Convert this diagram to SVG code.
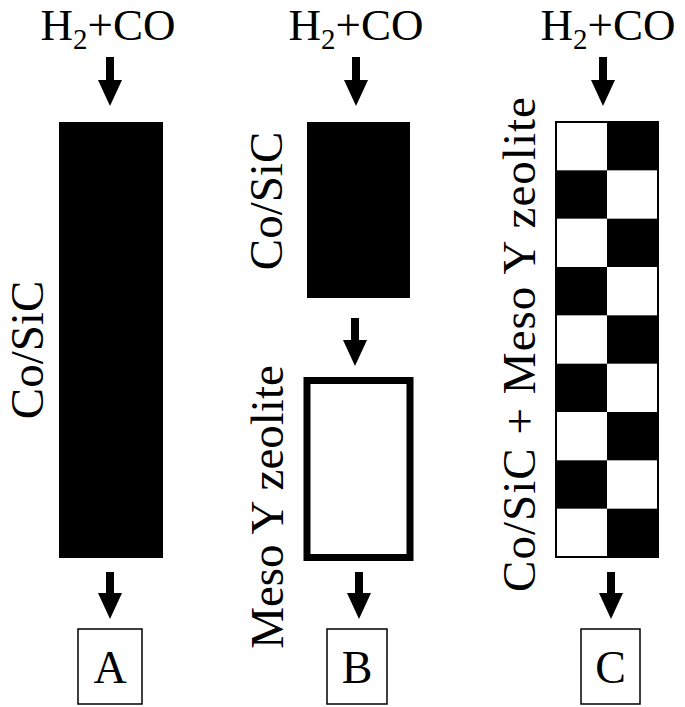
<svg xmlns="http://www.w3.org/2000/svg" width="685" height="707" viewBox="0 0 685 707">
<style>
text{font-family:'Liberation Serif','DejaVu Serif','Times New Roman',serif;fill:#000}
.top{font-size:45px;text-anchor:middle}
.rot{font-size:47px;text-anchor:middle}
.lbl{font-size:46px;text-anchor:middle}
.box{fill:#fff;stroke:#000;stroke-width:1.5}
.arr{stroke:#000;stroke-width:8;fill:none;marker-end:url(#head)}
</style>
<defs>
<marker id="head" markerUnits="userSpaceOnUse" markerWidth="26" markerHeight="24" refX="2" refY="12" orient="auto" viewBox="0 0 26 24">
<path d="M0,0 L26,12 L0,24 Z" fill="#000"/>
</marker>
</defs>
<rect width="685" height="707" fill="#fff"/>

<g id="feedA"><text class="top" x="108" y="40">H<tspan font-size="29" dy="9">2</tspan><tspan dy="-9">+CO</tspan></text></g>
<g id="feedB"><text class="top" x="356" y="40">H<tspan font-size="29" dy="9">2</tspan><tspan dy="-9">+CO</tspan></text></g>
<g id="feedC"><text class="top" x="608" y="40">H<tspan font-size="29" dy="9">2</tspan><tspan dy="-9">+CO</tspan></text></g>

<g id="bedA">
<rect x="59" y="122" width="104" height="436" fill="#000"/>
<text class="rot" transform="translate(43,350) rotate(-90)" font-size="46">Co/SiC</text>
</g>

<g id="bedB1">
<rect x="307" y="122" width="103" height="176" fill="#000"/>
<text class="rot" transform="translate(282,201) rotate(-90)">Co/SiC</text>
</g>

<g id="bedB2">
<rect x="307" y="380.5" width="103" height="177" fill="#fff" stroke="#000" stroke-width="7"/>
<text class="rot" transform="translate(283,507) rotate(-90)">Meso Y zeolite</text>
</g>

<g id="bedC">
<rect x="556" y="122" width="102" height="435" fill="#fff" stroke="#000" stroke-width="2"/>
<g fill="#000">
<rect x="607" y="122" width="51" height="48.33"/>
<rect x="556" y="170.33" width="51" height="48.33"/>
<rect x="607" y="218.67" width="51" height="48.33"/>
<rect x="556" y="267" width="51" height="48.33"/>
<rect x="607" y="315.33" width="51" height="48.33"/>
<rect x="556" y="363.67" width="51" height="48.33"/>
<rect x="607" y="412" width="51" height="48.33"/>
<rect x="556" y="460.33" width="51" height="48.33"/>
<rect x="607" y="508.67" width="51" height="48.33"/>
</g>
<text class="rot" transform="translate(535,344.5) rotate(-90)" textLength="495">Co/SiC + Meso Y zeolite</text>
</g>

<g id="productA"><rect class="box" x="78" y="629" width="64" height="75"/><text class="lbl" x="110" y="683">A</text></g>
<g id="productB"><rect class="box" x="327" y="629" width="60" height="75"/><text class="lbl" x="357" y="683">B</text></g>
<g id="productC"><rect class="box" x="581" y="629" width="59" height="75"/><text class="lbl" x="610.5" y="683">C</text></g>

<g id="connectors">
<line class="arr" x1="110" y1="57" x2="110" y2="82"/>
<line class="arr" x1="356" y1="57" x2="356" y2="82"/>
<line class="arr" x1="603" y1="57" x2="603" y2="82"/>
<line class="arr" x1="355" y1="318" x2="355" y2="342"/>
<line class="arr" x1="110" y1="572" x2="110" y2="595"/>
<line class="arr" x1="359" y1="572" x2="359" y2="595"/>
<line class="arr" x1="611" y1="572" x2="611" y2="595"/>
</g>
</svg>
